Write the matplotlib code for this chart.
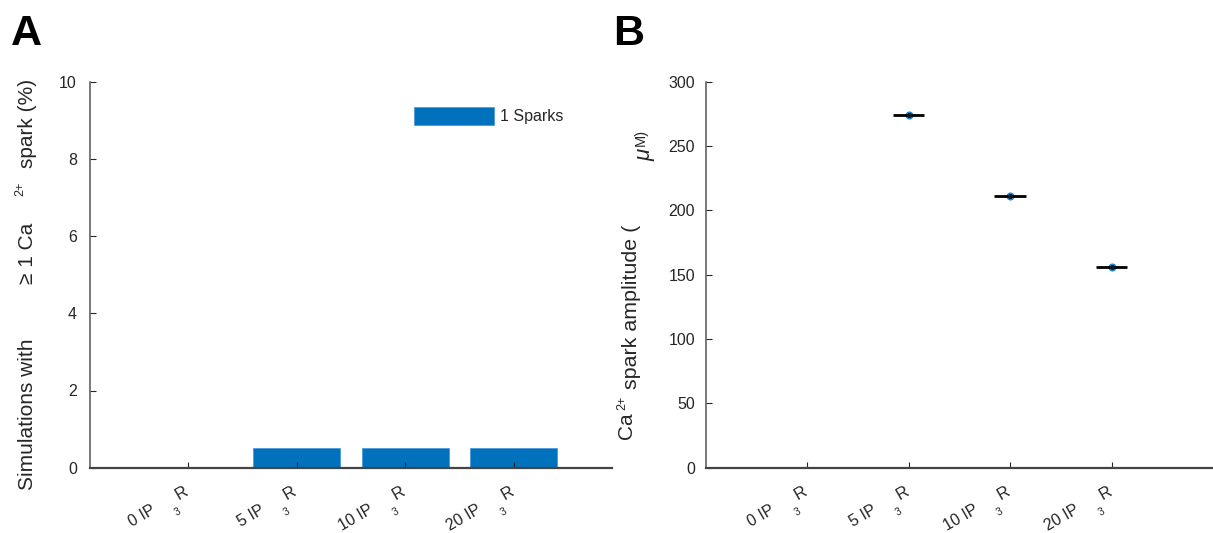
import matplotlib
matplotlib.use("Agg")
import matplotlib.pyplot as plt
import numpy as np

plt.rcParams['font.family'] = ['Liberation Sans', 'DejaVu Sans']

# ---- data ----
categories = ['0', '5', '10', '20']          # IP3 levels
spark_pct = [0.0, 0.5, 0.5, 0.5]            # panel A bars (%)
legend_label = '1 Sparks'
amplitude = [np.nan, 274.0, 211.0, 156.0]   # panel B (uM)
a_yticks = [0, 2, 4, 6, 8, 10]
b_yticks = [0, 50, 100, 150, 200, 250, 300]

W, H = 1213, 533
DPI = 100
fig = plt.figure(figsize=(W / DPI, H / DPI), dpi=DPI)
TXT = '#262626'
BLUE = '#0072BD'

def fx(px):
    return px / W

def fy(py):
    return 1 - py / H

axA = fig.add_axes([fx(90), fy(467.7), fx(611.7 - 90), (467.7 - 81.7) / H])
axB = fig.add_axes([fx(705.7), fy(467.5), fx(1213 - 705.7), (467.5 - 81.7) / H])

xpos = np.arange(1, len(categories) + 1)

# ---- panel A ----
bars = axA.bar(xpos, spark_pct, width=0.8, color=BLUE, edgecolor='#4f9ad8',
               linewidth=0.6, label=legend_label)
axA.set_xlim(0.1, 4.9)
axA.set_ylim(0, 10)
axA.set_yticks(a_yticks)
axA.tick_params(axis='y', direction='in', length=4, pad=9.4, labelsize=11.5,
                colors=TXT, width=0.8)
leg = axA.legend(loc='upper left', bbox_to_anchor=(fx(414 - 90) / fx(521.7), 1 - (107.3 - 81.7) / 386),
                 frameon=False, fontsize=11.5, handlelength=5.0, handleheight=1.3,
                 handletextpad=0.38, borderpad=0, borderaxespad=0)
for t in leg.get_texts():
    t.set_color(TXT)

# ---- panel B ----
axB.plot(xpos, amplitude, linestyle='none', marker='o', markersize=4.8,
         color='#1f86d6', zorder=3)
axB.hlines(amplitude, xpos - 0.156, xpos + 0.156, colors='black', linewidth=2.0, zorder=4)
axB.plot(xpos, amplitude, linestyle='none', marker='o', markersize=2.6,
         color='#101820', zorder=5)
axB.set_xlim(0, 5)
axB.set_ylim(0, 300)
axB.set_yticks(b_yticks)
axB.tick_params(axis='y', direction='in', length=4, pad=7.7, labelsize=11.5,
                colors=TXT, width=0.8)

for ax in (axA, axB):
    ax.spines['top'].set_visible(False)
    ax.spines['right'].set_visible(False)
    ax.spines['left'].set_color('#555555')
    ax.spines['bottom'].set_color('#444444')
    ax.spines['left'].set_linewidth(1.1)
    ax.spines['bottom'].set_linewidth(1.6)
    ax.set_xticks(xpos)
    ax.set_xticklabels([''] * len(xpos))
    ax.tick_params(axis='x', direction='in', length=4, width=0.8, colors=TXT)
    ax.set_facecolor('white')
    # tick labels built piecewise (IP, subscript 3, R)
    trans = ax.get_xaxis_transform()
    for x, c in zip(xpos, categories):
        ax.annotate('R', xy=(x, 0), xycoords=trans, xytext=(1, -26.5),
                    textcoords='offset pixels', rotation=30, rotation_mode='anchor',
                    ha='right', va='baseline', fontsize=12, color=TXT,
                    annotation_clip=False)
        ax.annotate(c + ' IP', xy=(x, 0), xycoords=trans, xytext=(-31.2, -45.1),
                    textcoords='offset pixels', rotation=30, rotation_mode='anchor',
                    ha='right', va='baseline', fontsize=11.5, color=TXT,
                    annotation_clip=False)
        ax.annotate('3', xy=(x, 0), xycoords=trans, xytext=(-8.5, -47.2),
                    textcoords='offset pixels', rotation=30, rotation_mode='anchor',
                    ha='center', va='baseline', fontsize=7.5, color=TXT,
                    annotation_clip=False)

# ---- y labels (pieces) ----
def vtext(px, py, s, size, **kw):
    fig.text(fx(px), fy(py), s, rotation=90, rotation_mode='anchor',
             ha='left', va='baseline', fontsize=size, color=TXT, **kw)

vtext(33, 490, 'Simulations with', 15)
vtext(33, 284, '\u2265 1 Ca', 15)
vtext(23, 196, '2+', 9)
vtext(33, 168, 'spark (%)', 15)

vtext(632, 439, 'Ca', 15)
vtext(625, 410, '2+', 9)
vtext(637, 389, 'spark amplitude (', 15.4)
vtext(650, 161, '\u03bc', 16, style='italic')
vtext(645, 146, 'M)', 10.5)

# ---- panel letters ----
fig.text(fx(10.5), fy(45), 'A', fontsize=31, fontweight='bold', color='black',
         ha='left', va='baseline')
fig.text(fx(613), fy(45), 'B', fontsize=31, fontweight='bold', color='black',
         ha='left', va='baseline')

fig.savefig('out.png', dpi=DPI, facecolor='white')
